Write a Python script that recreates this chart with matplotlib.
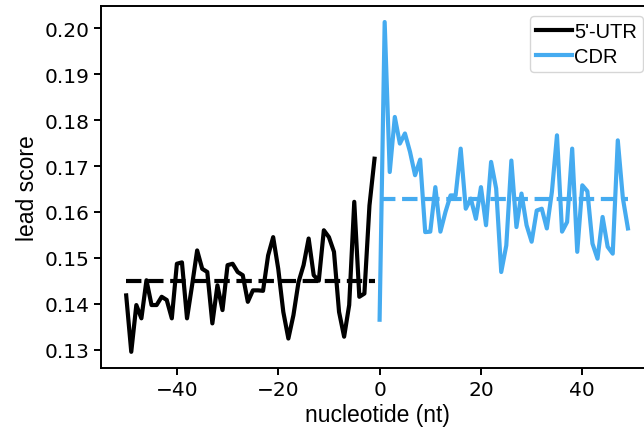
import numpy as np
import matplotlib
matplotlib.use('Agg')
import matplotlib.pyplot as plt

# lead score per nucleotide position
utr_pos = list(range(-50, 0))
utr_score = [0.1418, 0.1295, 0.1397, 0.1368, 0.1451, 0.1397, 0.1397, 0.1415, 0.1408, 0.1368,
             0.1487, 0.1490, 0.1368, 0.1440, 0.1516, 0.1476, 0.1469, 0.1357, 0.1440, 0.1386,
             0.1484, 0.1487, 0.1469, 0.1462, 0.1404, 0.1429, 0.1429, 0.1428, 0.1505, 0.1545,
             0.1476, 0.1382, 0.1324, 0.1375, 0.1447, 0.1484, 0.1542, 0.1462, 0.1450, 0.1560,
             0.1545, 0.1513, 0.1382, 0.1328, 0.1397, 0.1622, 0.1415, 0.1422, 0.1614, 0.1716]

cdr_pos = list(range(0, 50))
cdr_score = [0.1365, 0.2014, 0.1687, 0.1807, 0.1749, 0.1771, 0.1731, 0.1680, 0.1714, 0.1556,
             0.1557, 0.1654, 0.1557, 0.1600, 0.1636, 0.1636, 0.1738, 0.1607, 0.1629, 0.1585,
             0.1654, 0.1571, 0.1709, 0.1651, 0.1469, 0.1527, 0.1712, 0.1567, 0.1640, 0.1571,
             0.1535, 0.1603, 0.1607, 0.1564, 0.1644, 0.1767, 0.1557, 0.1578, 0.1738, 0.1513,
             0.1658, 0.1645, 0.1531, 0.1498, 0.1589, 0.1524, 0.1509, 0.1756, 0.1630, 0.1564]

black = 'black'
blue = '#45abf0'

fig = plt.figure(figsize=(6.44, 4.35), dpi=100)
ax = fig.add_axes([0.157, 0.151, 0.857, 0.834])

ax.plot(utr_pos, utr_score, color=black, lw=3, label="5'-UTR")
ax.plot(cdr_pos, cdr_score, color=blue, lw=3, label='CDR')
ax.plot([utr_pos[0], utr_pos[-1]], [np.mean(utr_score)] * 2, color=black, lw=3, ls='--')
ax.plot([cdr_pos[0], cdr_pos[-1]], [np.mean(cdr_score)] * 2, color=blue, lw=3, ls='--')

ax.set_yticks([0.13, 0.14, 0.15, 0.16, 0.17, 0.18, 0.19, 0.20])
ax.tick_params(labelsize=14.5, width=1.4, length=5)
for s in ax.spines.values():
    s.set_linewidth(1.4)

ax.set_xlabel('nucleotide (nt)', fontsize=16.5, family='Liberation Sans', labelpad=3)
ax.set_ylabel('lead score', fontsize=16.5, family='Liberation Sans', labelpad=4)
ax.legend(loc='upper right', prop={'family': 'Liberation Sans', 'size': 14.5},
          handlelength=1.8, handletextpad=0.1, borderpad=0.3, labelspacing=0.3)

fig.savefig('out.png', dpi=100)
